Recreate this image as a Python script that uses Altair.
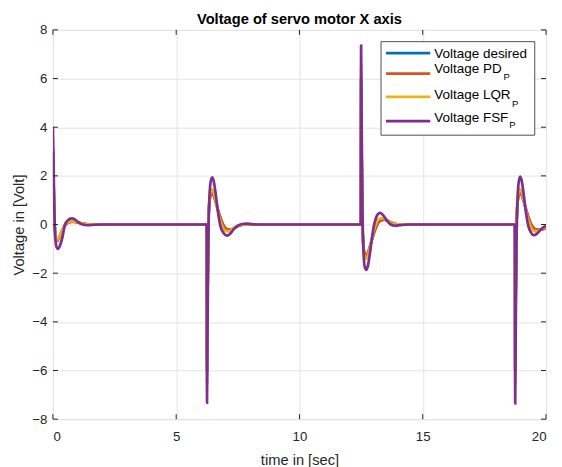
import altair as alt
import pandas as pd

# ---------------- data ----------------
# the "desired" trace is never visible in the reference: it lies under the PD trace
t_desired = [0.00, 0.03, 0.07, 0.12, 0.17, 0.24, 0.35, 0.48, 0.62, 0.80, 1.00, 1.25, 1.60,
             6.24, 6.25, 6.27, 6.31, 6.37, 6.44, 6.52, 6.64, 6.77, 6.90, 7.04, 7.19, 7.37, 7.57, 7.87,
             12.49, 12.50, 12.52, 12.56, 12.62, 12.69, 12.77, 12.89, 13.02, 13.15, 13.29, 13.44, 13.62, 13.82, 14.12,
             18.74, 18.75, 18.77, 18.81, 18.87, 18.94, 19.02, 19.14, 19.27, 19.40, 19.54, 19.69, 19.87, 20.00]
v_desired = [3.00, 1.60, 0.00, -0.55, -0.67, -0.58, -0.30, -0.05, 0.08, 0.12, 0.09, 0.03, 0.00,
             0.00, -6.00, -3.00, 0.20, 1.10, 1.30, 1.20, 0.80, 0.35, 0.00, -0.18, -0.22, -0.13, -0.04, 0.00,
             0.00, 6.00, 3.00, -0.20, -1.10, -1.28, -1.18, -0.80, -0.35, 0.00, 0.17, 0.20, 0.13, 0.04, 0.00,
             0.00, -6.00, -3.00, 0.20, 1.10, 1.30, 1.20, 0.80, 0.35, 0.00, -0.18, -0.22, -0.19, -0.15]

t_pd = [0.00, 0.03, 0.07, 0.12, 0.17, 0.24, 0.35, 0.48, 0.62, 0.80, 1.00, 1.25, 1.60,
        6.24, 6.25, 6.27, 6.31, 6.37, 6.44, 6.52, 6.64, 6.77, 6.90, 7.04, 7.19, 7.37, 7.57, 7.87,
        12.49, 12.50, 12.52, 12.56, 12.62, 12.69, 12.77, 12.89, 13.02, 13.15, 13.29, 13.44, 13.62, 13.82, 14.12,
        18.74, 18.75, 18.77, 18.81, 18.87, 18.94, 19.02, 19.14, 19.27, 19.40, 19.54, 19.69, 19.87, 20.00]
v_pd = [3.00, 1.60, 0.00, -0.55, -0.67, -0.58, -0.30, -0.05, 0.08, 0.12, 0.09, 0.03, 0.00,
        0.00, -6.00, -3.00, 0.20, 1.10, 1.30, 1.20, 0.80, 0.35, 0.00, -0.18, -0.22, -0.13, -0.04, 0.00,
        0.00, 6.00, 3.00, -0.20, -1.10, -1.28, -1.18, -0.80, -0.35, 0.00, 0.17, 0.20, 0.13, 0.04, 0.00,
        0.00, -6.00, -3.00, 0.20, 1.10, 1.30, 1.20, 0.80, 0.35, 0.00, -0.18, -0.22, -0.19, -0.15]

t_lqr = [0.00, 0.03, 0.07, 0.12, 0.17, 0.24, 0.35, 0.48, 0.62, 0.78, 0.98, 1.20, 1.50,
         6.24, 6.25, 6.27, 6.31, 6.37, 6.44, 6.52, 6.63, 6.75, 6.87, 7.00, 7.14, 7.32, 7.52, 7.82,
         12.49, 12.50, 12.52, 12.56, 12.62, 12.69, 12.77, 12.88, 13.00, 13.12, 13.25, 13.39, 13.57, 13.77, 14.07,
         18.74, 18.75, 18.77, 18.81, 18.87, 18.94, 19.02, 19.13, 19.25, 19.37, 19.50, 19.64, 19.82, 20.00]
v_lqr = [2.80, 1.50, 0.00, -0.50, -0.62, -0.55, -0.28, -0.03, 0.10, 0.14, 0.10, 0.03, 0.00,
         0.00, -6.50, -3.20, 0.30, 1.25, 1.45, 1.33, 0.85, 0.30, -0.08, -0.26, -0.28, -0.15, -0.04, 0.00,
         0.00, 6.50, 3.20, -0.30, -1.25, -1.42, -1.30, -0.85, -0.30, 0.08, 0.24, 0.26, 0.15, 0.04, 0.00,
         0.00, -6.50, -3.20, 0.30, 1.25, 1.45, 1.33, 0.85, 0.30, -0.08, -0.26, -0.28, -0.18, -0.11]

t_fsf = [0.00, 0.02, 0.05, 0.09, 0.14, 0.20, 0.28, 0.38, 0.49, 0.60, 0.76, 0.90, 1.05, 1.20, 1.40, 1.70, 2.00,
         6.24, 6.25, 6.27, 6.30, 6.34, 6.39, 6.46, 6.52, 6.60, 6.69, 6.79, 6.92, 7.06, 7.19, 7.33, 7.49, 7.66, 7.86, 8.10, 8.45,
         12.49, 12.50, 12.52, 12.55, 12.59, 12.64, 12.71, 12.77, 12.85, 12.94, 13.04, 13.14, 13.27, 13.40, 13.54, 13.70, 13.87, 14.07, 14.40,
         18.74, 18.75, 18.77, 18.80, 18.84, 18.89, 18.95, 19.01, 19.09, 19.18, 19.28, 19.39, 19.51, 19.64, 19.78, 19.92, 20.00]
v_fsf = [4.00, 3.00, 1.00, -0.45, -0.90, -1.00, -0.88, -0.55, 0.00, 0.17, 0.25, 0.20, 0.08, 0.00, -0.03, -0.01, 0.00,
         0.00, -7.32, -4.50, -1.00, 0.90, 1.70, 1.94, 1.80, 1.28, 0.55, -0.05, -0.35, -0.46, -0.38, -0.20, -0.06, 0.02, 0.04, 0.01, 0.00,
         0.00, 7.35, 4.50, 1.00, -0.90, -1.70, -1.86, -1.72, -1.25, -0.55, 0.05, 0.36, 0.48, 0.38, 0.17, 0.00, -0.05, -0.03, 0.00,
         0.00, -7.35, -4.50, -1.00, 0.90, 1.72, 1.97, 1.82, 1.28, 0.55, -0.05, -0.33, -0.44, -0.37, -0.22, -0.10, -0.06]

x_ticks = [0, 5, 10, 15, 20]
y_ticks = [-8, -6, -4, -2, 0, 2, 4, 6, 8]

series_keys = ["a_desired", "b_pd", "c_lqr", "d_fsf"]
legend_labels = ["Voltage desired", "Voltage PD", "Voltage LQR", "Voltage FSF"]
legend_subs = ["", "P", "P", "P"]
series_colors = ["#0072BD", "#D95319", "#EDB120", "#7E2F8E"]

# ---------------- layout / style ----------------
W, H = 494, 390
FONT = "Liberation Sans"
AX = "#262626"
GRID = "#e4e4e4"
TICK = 5

xscale = alt.Scale(domain=[0, 20], nice=False, zero=False)
yscale = alt.Scale(domain=[-8, 8], nice=False, zero=False)

x_main = alt.Axis(orient="bottom", values=x_ticks, grid=True, gridColor=GRID, gridWidth=1,
                  domain=False, ticks=False, labelColor=AX, labelFont=FONT, labelFontSize=13.3,
                  labelPadding=10, title="time in [sec]", titleFont=FONT, titleFontSize=14.7,
                  titleFontWeight="normal", titleColor=AX, titlePadding=10)
y_main = alt.Axis(orient="left", values=y_ticks, grid=True, gridColor=GRID, gridWidth=1,
                  domain=False, ticks=False, labelColor=AX, labelFont=FONT, labelFontSize=13.3,
                  labelPadding=6, title="Voltage in [Volt]", titleFont=FONT, titleFontSize=14.7,
                  titleFontWeight="normal", titleColor=AX, titlePadding=5)

# long-form table, drawn in this order (desired at the bottom, FSF on top)
frames = []
for key, t, v in zip(series_keys, [t_desired, t_pd, t_lqr, t_fsf], [v_desired, v_pd, v_lqr, v_fsf]):
    frames.append(pd.DataFrame({"t": t, "v": v, "series": key}))
lines_df = pd.concat(frames, ignore_index=True)

lines = alt.Chart(lines_df).mark_line(strokeWidth=2.7, interpolate="monotone", clip=True).encode(
    x=alt.X("t:Q", scale=xscale, axis=x_main),
    y=alt.Y("v:Q", scale=yscale, axis=y_main),
    color=alt.Color("series:N", scale=alt.Scale(domain=series_keys, range=series_colors), legend=None),
)
layers = [lines]

# inward tick marks on all four sides of the box (MATLAB style)
xt = pd.DataFrame({"t": x_ticks})
yt = pd.DataFrame({"v": y_ticks})
for y0, y1 in [(H, H - TICK), (0, TICK)]:
    layers.append(alt.Chart(xt).mark_rule(color=AX, strokeWidth=1).encode(
        x=alt.X("t:Q", scale=xscale, axis=x_main), y=alt.value(y0), y2=alt.value(y1)))
for x0, x1 in [(0, TICK), (W, W - TICK)]:
    layers.append(alt.Chart(yt).mark_rule(color=AX, strokeWidth=1).encode(
        y=alt.Y("v:Q", scale=yscale, axis=y_main), x=alt.value(x0), x2=alt.value(x1)))

# ---------------- legend (custom, for the subscripts) ----------------
one = pd.DataFrame({"k": [0]})
LX0, LX1, LY0, LY1 = 328.7, 482.7, 11.8, 105.5
layers.append(alt.Chart(one).mark_rect(fill="white", stroke=AX, strokeWidth=0.8).encode(
    x=alt.value(LX0), x2=alt.value(LX1), y=alt.value(LY0), y2=alt.value(LY1)))

line_y = [23.2, 43.8, 67.2, 91.5]
text_y = [23.8, 38.8, 65.5, 87.8]
sub_y = [0, 47.2, 73.8, 95.5]
sub_x = [0, 451.5, 459.8, 457.2]
for i, lab in enumerate(legend_labels):
    layers.append(alt.Chart(one).mark_rule(color=series_colors[i], strokeWidth=2.7).encode(
        x=alt.value(333.7), x2=alt.value(378.0), y=alt.value(line_y[i])))
    layers.append(alt.Chart(one).mark_text(text=lab, align="left", baseline="middle", font=FONT,
                                           fontSize=13.5, color="#000000").encode(
        x=alt.value(382.0), y=alt.value(text_y[i])))
    if legend_subs[i]:
        layers.append(alt.Chart(one).mark_text(text=legend_subs[i], align="left", baseline="middle",
                                               font=FONT, fontSize=9.5, color="#000000").encode(
            x=alt.value(sub_x[i]), y=alt.value(sub_y[i])))

chart = alt.layer(*layers).properties(
    width=W, height=H,
    title=alt.TitleParams("Voltage of servo motor X axis", font=FONT, fontSize=14.7,
                          fontWeight="bold", color="#000000", anchor="middle", offset=-4),
    autosize=alt.AutoSizeParams(type="none"),
    padding={"left": 45, "top": 21.5, "right": 8, "bottom": 50},
).configure_view(stroke=AX, strokeWidth=1).configure(background="white")

chart.save("out.html", embed_options={"renderer": "svg", "actions": False})
